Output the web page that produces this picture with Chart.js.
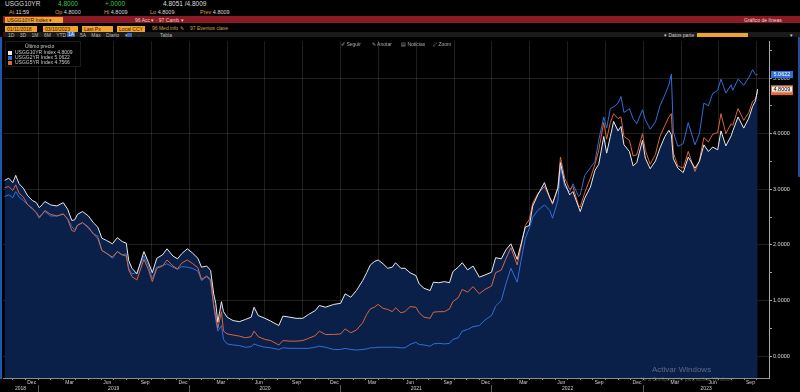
<!DOCTYPE html>
<html lang="es"><head><meta charset="utf-8">
<script src="https://cdn.jsdelivr.net/npm/chart.js@4.4.1/dist/chart.umd.min.js"></script>
<style>
html,body{margin:0;padding:0;background:#000;}
body{width:800px;height:392px;overflow:hidden;position:relative;font-family:"Liberation Sans",Arial,sans-serif;color:#dcdcdc;}
.a{position:absolute;white-space:nowrap;line-height:1;}
.f7{font-size:6.5px}
.f6{font-size:5.5px}
.f5{font-size:5px}
.or{color:#e39a3c}
.gr{color:#3cc43f}
.ob{position:absolute;background:#f0a232;color:#2a1600;font-size:5px;line-height:6px;height:6px;padding-left:2px;box-sizing:border-box;white-space:nowrap;}
#wrap{position:absolute;left:0;top:37px;width:800px;height:355px;}
.lg{position:absolute;left:5px;top:41px;width:74px;height:24px;background:rgba(0,0,0,0.85);border:1px solid #1a1a1a;z-index:5;}
.sq{display:inline-block;width:4px;height:4px;margin-right:3px;vertical-align:middle;}
</style></head><body>

<!-- header rows -->
<div class="a f7" style="left:5px;top:1px;color:#d8d8d8">USGG10YR</div>
<div class="a f7 gr" style="left:58px;top:1px">4.8000</div>
<div class="a f7 gr" style="left:105px;top:1px">+.0000</div>
<div class="a f7" style="left:163px;top:1px">4.8051 /4.8009</div>

<div class="a f6" style="left:9px;top:9.5px"><span class="or">At</span> 11:59</div>
<div class="a f6" style="left:55px;top:9.5px"><span class="or">Op</span> 4.8000</div>
<div class="a f6" style="left:104px;top:9.5px"><span class="or">Hi</span> 4.8009</div>
<div class="a f6" style="left:150px;top:9.5px"><span class="or">Lo</span> 4.8009</div>
<div class="a f6" style="left:200px;top:9.5px"><span class="or">Prev</span> 4.8009</div>

<div class="a" style="left:3px;top:16px;width:797px;height:7px;background:#8c1a24"></div>
<div class="ob" style="left:5px;top:16.5px;width:58px">USGG10YR Index ▾</div>
<div class="a f5" style="left:135px;top:17.5px;color:#f0d0d0">96 Acc ▾ · 97 Camb ▾</div>
<div class="a f5" style="left:744px;top:17.5px;color:#f4dada">Gráfico de líneas</div>

<div class="ob" style="left:5px;top:25.5px;width:32px">01/11/2018</div>
<div class="ob" style="left:43px;top:25.5px;width:35px">03/10/2023</div>
<div class="ob" style="left:82px;top:25.5px;width:31px">Last Px</div>
<div class="ob" style="left:117px;top:25.5px;width:28px">Local CCY</div>
<div class="a f5" style="left:152px;top:26px;color:#d9a05a">96 Med info ✎</div>
<div class="a f5" style="left:190px;top:26px;color:#d9a05a">97 Eventos clave</div>

<div class="a" style="left:3px;top:32px;width:797px;height:5px;background:#1b1b1b"></div>
<div class="a f5" style="left:8px;top:32.5px;color:#bbb;word-spacing:4px">1D 3D 1M 6M YTD</div>
<div class="a f5" style="left:67px;top:32px;background:#2b66c8;color:#fff;padding:0 1px">1A</div>
<div class="a f5" style="left:80px;top:32.5px;color:#bbb;word-spacing:4px">5A Máx Diario ▾</div>
<div class="a" style="left:127px;top:32.5px;width:5px;height:4px;background:#2b66c8"></div>
<div class="a f5" style="left:138px;top:32.5px;color:#999">·</div>
<div class="a f5" style="left:160px;top:32.5px;color:#bbb">Tabla</div>
<div class="a f5" style="left:664px;top:32.5px;color:#ccc">▾ Datos parte</div>
<div class="a" style="left:697px;top:32.5px;width:51px;height:4.5px;background:#f0a232"></div>
<div class="a f5" style="left:790px;top:32.5px;color:#ccc">▾</div>

<!-- chart tool row -->
<div class="a f5" style="left:341px;top:42px;color:#aaa;z-index:5">✐ Seguir</div>
<div class="a f5" style="left:372px;top:42px;color:#aaa;z-index:5">✎ Anotar</div>
<div class="a f5" style="left:401px;top:42px;color:#aaa;z-index:5">▤ Noticias</div>
<div class="a f5" style="left:433px;top:42px;color:#aaa;z-index:5">⤢ Zoom</div>

<!-- legend -->
<div class="lg">
  <div class="a f5" style="left:19px;top:2px;color:#ccc">Último precio</div>
  <div class="a f5" style="left:2px;top:8px;color:#ccc"><span class="sq" style="background:#eeeeee"></span><span id="l0"></span></div>
  <div class="a f5" style="left:2px;top:13px;color:#ccc"><span class="sq" style="background:#2f6fd8"></span><span id="l1"></span></div>
  <div class="a f5" style="left:2px;top:18px;color:#ccc"><span class="sq" style="background:#e0683a"></span><span id="l2"></span></div>
</div>

<div class="a" style="left:0;top:37px;width:2px;height:342px;background:#1f56b0;z-index:6"></div>
<div class="a" style="left:798px;top:37px;width:2px;height:140px;background:#1f4e9a;z-index:6"></div>

<div id="wrap"><canvas id="c" width="800" height="355"></canvas></div>

<div class="a" style="left:652px;top:366px;font-size:8px;color:rgba(190,190,200,0.45);z-index:7">Activar Windows</div>
<div class="a" style="left:641px;top:377px;font-size:5px;color:rgba(190,190,200,0.4);z-index:7">Ve a Configuración para activar Windows.</div>

<script>
// ---------------- data ----------------
const seriesNames = ['USGG10YR Index', 'USGG2YR Index', 'USGG5YR Index'];

const dates = [
  // 2018
  '2018-10-12','2018-10-22','2018-11-01','2018-11-08','2018-11-16','2018-11-26','2018-12-07','2018-12-18','2018-12-28',
  // 2019
  '2019-01-04','2019-01-11','2019-01-18','2019-02-01','2019-02-15','2019-03-01','2019-03-12','2019-03-22','2019-03-29',
  '2019-04-05','2019-04-17','2019-05-01','2019-05-13','2019-05-24','2019-06-03','2019-06-14','2019-06-28','2019-07-10',
  '2019-07-22','2019-08-01','2019-08-07','2019-08-15','2019-08-27','2019-09-13','2019-09-24','2019-10-03','2019-10-14',
  '2019-10-28','2019-11-08','2019-11-22','2019-12-03','2019-12-13','2019-12-27',
  // 2020
  '2020-01-08','2020-01-22','2020-01-31','2020-02-12','2020-02-21','2020-02-28','2020-03-04','2020-03-09','2020-03-18',
  '2020-03-23','2020-04-01','2020-04-15','2020-04-30','2020-05-15','2020-05-29','2020-06-05','2020-06-15','2020-07-01',
  '2020-07-15','2020-08-04','2020-08-14','2020-08-31','2020-09-15','2020-10-01','2020-10-15','2020-11-01','2020-11-10',
  '2020-11-25','2020-12-15',
  // 2021
  '2021-01-01','2021-01-12','2021-01-26','2021-02-08','2021-02-22','2021-03-03','2021-03-12','2021-03-22','2021-03-31',
  '2021-04-12','2021-04-23','2021-05-04','2021-05-12','2021-05-25','2021-06-04','2021-06-16','2021-06-30','2021-07-08',
  '2021-07-20','2021-08-04','2021-08-12','2021-08-25','2021-09-08','2021-09-20','2021-09-28','2021-10-11','2021-10-21',
  '2021-11-03','2021-11-16','2021-12-01','2021-12-15','2021-12-31',
  // 2022
  '2022-01-10','2022-01-24','2022-02-04','2022-02-15','2022-03-01','2022-03-10','2022-03-21','2022-03-31','2022-04-08',
  '2022-04-20','2022-05-06','2022-05-19','2022-05-26','2022-06-08','2022-06-14','2022-06-24','2022-07-06','2022-07-14',
  '2022-07-28','2022-08-01','2022-08-12','2022-08-26','2022-09-06','2022-09-15','2022-09-27','2022-10-04','2022-10-13',
  '2022-10-21','2022-11-01','2022-11-08','2022-11-15','2022-11-28','2022-12-07','2022-12-16','2022-12-30',
  // 2023
  '2023-01-06','2023-01-18','2023-01-31','2023-02-10','2023-02-21','2023-03-02','2023-03-08','2023-03-13','2023-03-24',
  '2023-04-06','2023-04-18','2023-05-04','2023-05-15','2023-05-26','2023-06-06','2023-06-16','2023-06-28','2023-07-06',
  '2023-07-18','2023-07-31','2023-08-04','2023-08-17','2023-08-31','2023-09-12','2023-09-21','2023-09-28','2023-10-03'
];

const usgg10 = [
  3.16,3.20,3.12,3.25,3.10,3.02,2.88,2.80,2.76,
  2.67,2.72,2.78,2.72,2.70,2.76,2.64,2.44,2.45,
  2.55,2.60,2.52,2.40,2.32,2.12,2.08,2.02,2.13,
  2.06,2.03,1.72,1.58,1.48,1.88,1.68,1.50,1.76,
  1.82,1.93,1.80,1.75,1.84,1.93,
  1.86,1.76,1.60,1.62,1.54,1.12,0.95,0.61,0.98,
  0.80,0.70,0.64,0.62,0.66,0.70,0.88,0.73,0.68,
  0.63,0.55,0.72,0.70,0.68,0.68,0.75,0.82,0.91,
  0.88,0.93,
  0.95,1.12,1.06,1.18,1.36,1.50,1.64,1.70,1.73,
  1.66,1.58,1.60,1.68,1.58,1.58,1.50,1.45,1.30,
  1.22,1.18,1.33,1.32,1.34,1.32,1.52,1.60,1.68,
  1.55,1.62,1.42,1.46,1.51,
  1.77,1.75,1.91,2.02,1.74,2.00,2.32,2.35,2.70,
  2.90,3.12,2.85,2.75,3.02,3.48,3.12,2.90,2.96,
  2.68,2.60,2.84,3.04,3.34,3.45,3.95,3.65,3.95,
  4.22,4.05,4.13,3.80,3.68,3.42,3.48,3.88,
  3.56,3.37,3.51,3.74,3.95,4.06,3.98,3.55,3.38,
  3.30,3.58,3.38,3.50,3.80,3.68,3.76,3.71,4.05,
  3.78,3.96,4.05,4.30,4.10,4.28,4.49,4.59,4.8009
];

const usgg2 = [
  2.87,2.90,2.85,2.96,2.86,2.80,2.72,2.66,2.58,
  2.48,2.55,2.60,2.52,2.52,2.55,2.47,2.33,2.27,
  2.36,2.40,2.30,2.20,2.16,1.90,1.85,1.76,1.88,
  1.82,1.84,1.58,1.48,1.50,1.80,1.62,1.39,1.60,
  1.63,1.66,1.60,1.56,1.61,1.60,
  1.58,1.53,1.36,1.43,1.35,0.90,0.65,0.45,0.55,
  0.30,0.22,0.20,0.19,0.16,0.17,0.22,0.19,0.16,
  0.15,0.12,0.15,0.14,0.14,0.14,0.14,0.16,0.18,
  0.16,0.12,
  0.12,0.14,0.12,0.11,0.12,0.13,0.15,0.15,0.16,
  0.16,0.16,0.16,0.16,0.15,0.15,0.21,0.25,0.21,
  0.20,0.18,0.22,0.23,0.22,0.23,0.30,0.33,0.45,
  0.48,0.53,0.55,0.65,0.73,
  0.90,1.00,1.30,1.58,1.33,1.70,2.12,2.30,2.50,
  2.62,2.72,2.62,2.48,2.80,3.40,3.05,2.95,3.10,
  2.87,2.90,3.25,3.39,3.50,3.88,4.30,4.10,4.45,
  4.48,4.55,4.67,4.38,4.45,4.27,4.18,4.43,
  4.25,4.08,4.21,4.50,4.70,4.88,5.07,4.03,3.77,
  3.82,4.20,3.80,4.00,4.55,4.50,4.72,4.78,4.98,
  4.73,4.88,4.78,4.98,4.87,5.01,5.15,5.06,5.0622
];

const usgg5 = [
  3.03,3.05,2.98,3.08,2.93,2.86,2.72,2.65,2.58,
  2.50,2.55,2.62,2.55,2.52,2.56,2.46,2.26,2.24,
  2.35,2.40,2.32,2.20,2.12,1.90,1.85,1.78,1.88,
  1.82,1.80,1.55,1.43,1.37,1.74,1.55,1.34,1.58,
  1.62,1.73,1.62,1.57,1.67,1.73,
  1.67,1.59,1.38,1.44,1.38,0.92,0.72,0.50,0.80,
  0.45,0.40,0.38,0.36,0.33,0.35,0.45,0.35,0.30,
  0.28,0.20,0.28,0.27,0.27,0.28,0.32,0.37,0.45,
  0.39,0.39,
  0.40,0.49,0.42,0.47,0.60,0.75,0.85,0.88,0.93,
  0.86,0.84,0.80,0.87,0.78,0.80,0.89,0.88,0.78,
  0.70,0.68,0.79,0.80,0.80,0.85,0.98,1.05,1.20,
  1.15,1.25,1.12,1.20,1.26,
  1.50,1.55,1.75,1.95,1.64,1.95,2.35,2.46,2.75,
  2.92,3.05,2.86,2.73,3.05,3.58,3.20,3.00,3.05,
  2.70,2.68,2.94,3.20,3.45,3.70,4.20,3.90,4.20,
  4.36,4.27,4.30,3.95,3.88,3.60,3.62,4.00,
  3.70,3.45,3.63,3.95,4.15,4.30,4.36,3.65,3.42,
  3.38,3.68,3.32,3.52,3.93,3.85,3.99,4.02,4.36,
  4.00,4.18,4.15,4.45,4.24,4.38,4.58,4.62,4.7566
];

const monthNames = ['Jan','Feb','Mar','Apr','May','Jun','Jul','Aug','Sep','Oct','Nov','Dec'];
const labelMonths = ['Dec','Mar','Jun','Sep'];
const yearLabels = ['2018','2019','2020','2021','2022','2023'];
const yTickValues = [0,0.5,1,1.5,2,2.5,3,3.5,4,4.5,5,5.5];

// ---------------- helpers ----------------
const XMIN = -2.776, XMAX = 57.97, YMIN = -0.393, YMAX = 5.661;
const GRID = 'rgba(255,255,255,0.12)';
const mod = (a, n) => ((a % n) + n) % n;
function monthPos(s) {
  const [y, m, d] = s.split('-').map(Number);
  const dim = new Date(y, m, 0).getDate();
  return (y - 2019) * 12 + (m - 1) + (d - 1) / dim;
}
const pts = arr => dates.map((d, i) => ({ x: monthPos(d), y: arr[i] }));

// legend texts
const lastOf = a => a[a.length - 1].toFixed(4);
document.getElementById('l0').textContent = seriesNames[0] + '  ' + lastOf(usgg10);
document.getElementById('l1').textContent = seriesNames[1] + '  ' + lastOf(usgg2);
document.getElementById('l2').textContent = seriesNames[2] + '  ' + lastOf(usgg5);

// month ticks (starts) + label ticks (mid-month)
const xTicks = [];
for (let k = Math.ceil(XMIN); k <= Math.floor(XMAX); k++) {
  xTicks.push({ value: k });
  if (labelMonths.includes(monthNames[mod(k, 12)]) && k + 0.5 < XMAX) xTicks.push({ value: k + 0.5 });
}
// year ticks
const yearMap = {};
const x2Ticks = [];
yearLabels.forEach(yl => {
  const s = (Number(yl) - 2019) * 12;
  if (s > XMIN) x2Ticks.push({ value: s });
  const c = (Math.max(s, XMIN) + Math.min(s + 12, XMAX)) / 2;
  x2Ticks.push({ value: c });
  yearMap[c.toFixed(3)] = yl;
});
x2Ticks.sort((a, b) => a.value - b.value);

const lastBoxes = {
  id: 'lastBoxes',
  afterDraw(chart) {
    const ys = chart.scales.y, c = chart.ctx;
    const order = [2, 0, 1]; // orange, white, blue
    const sty = [
      { bg: '#f2f2f2', fg: '#000', bd: '#e0683a' },
      { bg: '#2f6fd8', fg: '#fff', bd: '#2f6fd8' },
      { bg: '#e0683a', fg: '#fff', bd: '#e0683a' }
    ];
    c.save();
    c.font = '5.5px "Liberation Sans", Arial, sans-serif';
    c.textBaseline = 'middle';
    order.forEach(i => {
      const ds = chart.data.datasets[i].data;
      const v = ds[ds.length - 1].y;
      const y = ys.getPixelForValue(v);
      const x0 = chart.chartArea.right + 2;
      c.fillStyle = sty[i].bg;
      c.fillRect(x0, y - 3.5, 22, 7);
      c.strokeStyle = sty[i].bd;
      c.lineWidth = 1;
      c.strokeRect(x0 + 0.5, y - 3, 21, 6);
      c.fillStyle = sty[i].fg;
      c.fillText(v.toFixed(4), x0 + 2.5, y + 0.3);
    });
    c.restore();
  }
};

new Chart(document.getElementById('c'), {
  type: 'line',
  data: {
    datasets: [
      { label: seriesNames[0], data: pts(usgg10), borderColor: '#e9e9e9', borderWidth: 1, pointRadius: 0,
        fill: 'start', backgroundColor: '#0b2049', tension: 0 },
      { label: seriesNames[1], data: pts(usgg2), borderColor: '#2f6fd8', borderWidth: 1, pointRadius: 0,
        fill: false, tension: 0, order: 2 },
      { label: seriesNames[2], data: pts(usgg5), borderColor: '#d8663c', borderWidth: 1, pointRadius: 0,
        fill: false, tension: 0, order: 1 }
    ]
  },
  options: {
    responsive: false, animation: false, devicePixelRatio: 1,
    layout: { padding: { left: 3, top: 2, right: 0, bottom: 0 } },
    plugins: { legend: { display: false }, tooltip: { enabled: false }, filler: { drawTime: 'beforeDatasetsDraw' } },
    scales: {
      x: {
        type: 'linear', position: 'bottom', min: XMIN, max: XMAX, weight: 1,
        afterBuildTicks: s => { s.ticks = xTicks.map(t => ({ value: t.value })); },
        afterFit: s => { s.height = 7; },
        grid: {
          color: c => (c.tick && Number.isInteger(c.tick.value) && mod(c.tick.value, 3) === 0) ? GRID : 'rgba(0,0,0,0)',
          tickColor: c => (c.tick && Number.isInteger(c.tick.value)) ? '#8a8a8a' : 'rgba(0,0,0,0)',
          tickLength: 2, lineWidth: 1
        },
        border: { display: true, color: '#8c8c8c', width: 1 },
        ticks: {
          autoSkip: false, maxRotation: 0, minRotation: 0, padding: 0,
          font: { size: 5, family: '"Liberation Sans", Arial' }, color: '#cfcfcf',
          callback: v => Number.isInteger(v) ? '' : monthNames[mod(Math.floor(v), 12)]
        }
      },
      x2: {
        type: 'linear', position: 'bottom', min: XMIN, max: XMAX, weight: 2,
        afterBuildTicks: s => { s.ticks = x2Ticks.map(t => ({ value: t.value })); },
        afterFit: s => { s.height = 7; },
        grid: {
          drawOnChartArea: false, tickLength: 7,
          color: c => (c.tick && yearMap[c.tick.value.toFixed(3)]) ? 'rgba(0,0,0,0)' : '#5a5a5a',
          tickColor: c => (c.tick && yearMap[c.tick.value.toFixed(3)]) ? 'rgba(0,0,0,0)' : '#5a5a5a'
        },
        border: { display: false },
        ticks: {
          autoSkip: false, maxRotation: 0, minRotation: 0, padding: -6.5,
          font: { size: 5, family: '"Liberation Sans", Arial' }, color: '#cfcfcf',
          callback: v => yearMap[v.toFixed(3)] || ''
        }
      },
      y: {
        type: 'linear', position: 'right', min: YMIN, max: YMAX,
        afterBuildTicks: s => { s.ticks = yTickValues.map(v => ({ value: v })); },
        afterFit: s => { s.width = 31; },
        grid: {
          color: c => (c.tick && Number.isInteger(c.tick.value)) ? GRID : 'rgba(0,0,0,0)',
          tickColor: '#a0a0a0', tickLength: 3, lineWidth: 1
        },
        border: { display: true, color: '#a8a8a8', width: 1 },
        ticks: {
          padding: 1, font: { size: 5.5, family: '"Liberation Sans", Arial' }, color: '#dcdcdc',
          callback: v => Number.isInteger(v) ? v.toFixed(4) : ''
        }
      }
    }
  },
  plugins: [lastBoxes]
});
</script>
</body></html>
